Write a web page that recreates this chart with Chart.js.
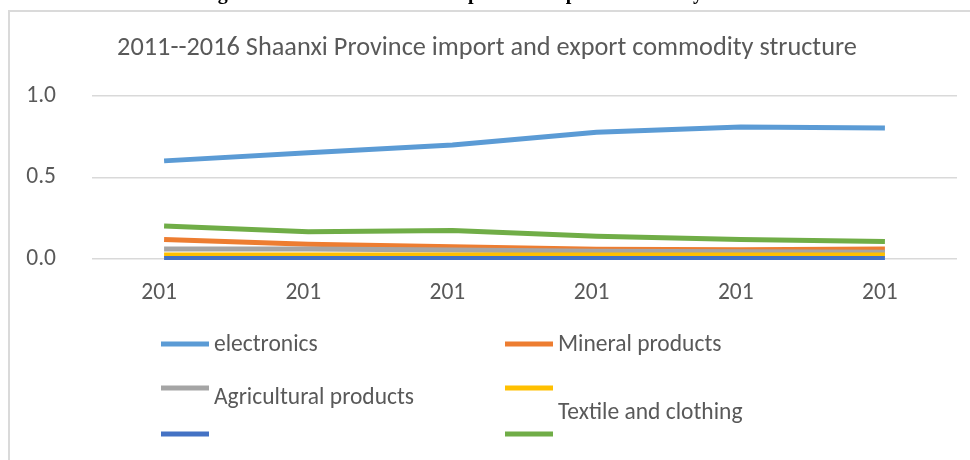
<!DOCTYPE html>
<html>
<head>
<meta charset="utf-8">
<script src="https://cdn.jsdelivr.net/npm/chart.js@4/dist/chart.umd.min.js"></script>
<style>
  html, body { margin: 0; padding: 0; background: #ffffff; }
  #wrap { position: relative; width: 970px; height: 460px; overflow: hidden; }
  #frame { position: absolute; left: 8px; top: 10px; width: 1000px; height: 500px;
           border-left: 2px solid #dadada; border-top: 2px solid #dadada; }
  #c { position: absolute; left: 0; top: 0; }
</style>
</head>
<body>
<div id="wrap">
  <div id="frame"></div>
  <canvas id="c" width="970" height="460"></canvas>
</div>
<script>
// ---- data ----
const years = ['2011', '2012', '2013', '2014', '2015', '2016'];
const tickLabels = ['201', '201', '201', '201', '201', '201'];
const yTicks = [0.0, 0.5, 1.0];
const seriesNames = ['electronics', 'Mineral products', 'Agricultural products', '', '', 'Textile and clothing'];
const electronics = [0.602, 0.652, 0.700, 0.778, 0.810, 0.803];
const mineral     = [0.120, 0.090, 0.075, 0.060, 0.057, 0.062];
const agricultural= [0.062, 0.061, 0.055, 0.047, 0.044, 0.042];
const seriesYellow= [0.025, 0.025, 0.025, 0.025, 0.025, 0.025];
const seriesBlue  = [0.003, 0.003, 0.003, 0.003, 0.003, 0.003];
const textile     = [0.202, 0.167, 0.175, 0.140, 0.120, 0.107];
const titleText = '2011--2016 Shaanxi Province import and export commodity structure';
const captionText = 'Figure 3. 2011-2016 Shaanxi import and export commodity structure';

// ---- styles ----
const colors = ['#5B9BD5', '#ED7D31', '#A5A5A5', '#FFC000', '#4472C4', '#70AD47'];
const allSeries = [electronics, mineral, agricultural, seriesYellow, seriesBlue, textile];
const FONT = 'Carlito, Calibri, Lato, sans-serif';
const TEXT = '#595959';

const datasets = allSeries.map((d, i) => ({
  label: seriesNames[i],
  data: d,
  borderColor: colors[i],
  backgroundColor: colors[i],
  borderWidth: 5,
  pointRadius: 0,
  pointHoverRadius: 0,
  tension: 0,
  fill: false,
  borderJoinStyle: 'round',
  borderCapStyle: 'butt',
  order: allSeries.length - i,
  clip: { left: 10, top: 10, right: 10, bottom: 1 }
}));

const decorPlugin = {
  id: 'decor',
  afterDraw(chart) {
    const ctx = chart.ctx;
    ctx.save();
    // cut-off caption at top of the page
    ctx.fillStyle = '#000000';
    ctx.font = 'bold 20px "Liberation Serif", "Times New Roman", serif';
    ctx.textAlign = 'left';
    ctx.textBaseline = 'alphabetic';
    ctx.fillText(captionText, 200, -1);

    // chart title
    ctx.fillStyle = TEXT;
    ctx.font = '26.3px ' + FONT;
    ctx.textAlign = 'center';
    ctx.textBaseline = 'middle';
    ctx.fillText(titleText, 487, 48);

    // legend
    const colX = [161, 505];
    const rowY = [344, 388, 434];
    const textDy = [1, 1, 10, 0, 0, -21];
    ctx.font = '23.5px ' + FONT;
    ctx.textAlign = 'left';
    chart.data.datasets.forEach((ds, i) => {
      const x = colX[i % 2];
      const y = rowY[Math.floor(i / 2)];
      ctx.strokeStyle = ds.borderColor;
      ctx.lineWidth = 5;
      ctx.lineCap = 'butt';
      ctx.beginPath();
      ctx.moveTo(x, y);
      ctx.lineTo(x + 48, y);
      ctx.stroke();
      if (ds.label) {
        ctx.fillStyle = TEXT;
        ctx.fillText(ds.label, x + 53, y + textDy[i]);
      }
    });
    ctx.restore();
  }
};

new Chart(document.getElementById('c'), {
  type: 'line',
  data: { labels: years, datasets: datasets },
  options: {
    responsive: false,
    animation: false,
    events: [],
    layout: { padding: { top: 96, right: 13, bottom: 0, left: 0 } },
    plugins: { legend: { display: false }, title: { display: false }, tooltip: { enabled: false } },
    scales: {
      x: {
        type: 'category',
        offset: true,
        grid: { display: false, drawTicks: false },
        border: { display: false },
        ticks: {
          color: TEXT,
          font: { family: FONT, size: 23.5 },
          padding: 20,
          labelOffset: -5,
          maxRotation: 0,
          autoSkip: false,
          callback: (v, i) => tickLabels[i]
        },
        afterFit: (s) => { s.height = 201; }
      },
      y: {
        min: 0,
        max: 1,
        afterBuildTicks: (s) => { s.ticks = yTicks.map(v => ({ value: v })); },
        grid: { color: '#d9d9d9', lineWidth: 1.5, drawTicks: false },
        border: { display: false },
        ticks: {
          color: TEXT,
          font: { family: FONT, size: 23.5 },
          padding: 36,
          callback: (v) => Number(v).toFixed(1)
        },
        afterFit: (s) => { s.width = 92; }
      }
    }
  },
  plugins: [decorPlugin]
});
</script>
</body>
</html>
